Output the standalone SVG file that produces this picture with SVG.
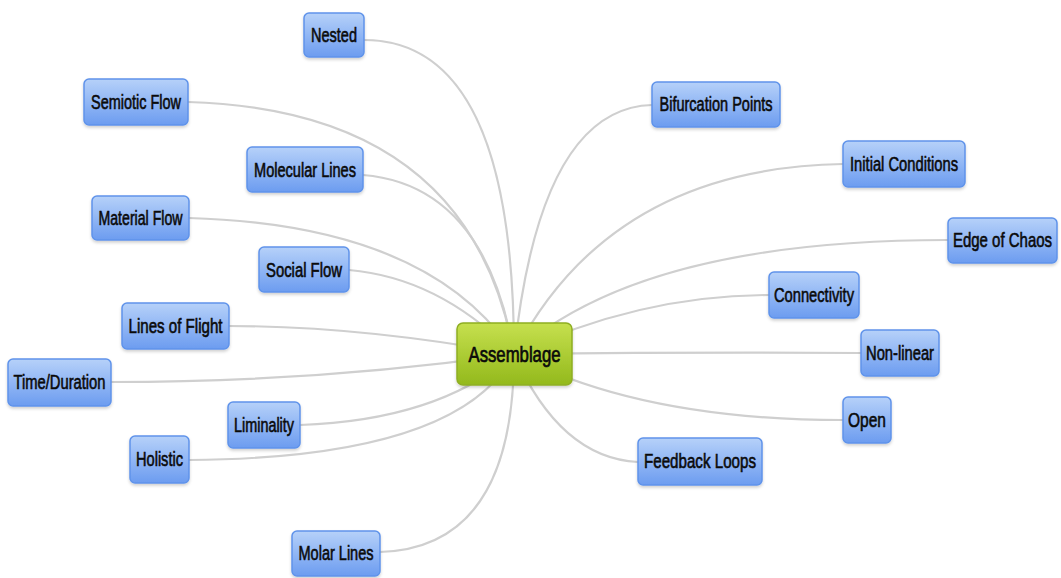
<svg xmlns="http://www.w3.org/2000/svg" width="1061" height="578" viewBox="0 0 1061 578">
  <defs>
    <linearGradient id="blueFill" x1="0" y1="0" x2="0" y2="1">
      <stop offset="0" stop-color="#b6d1f9"/>
      <stop offset="1" stop-color="#6c9cf0"/>
    </linearGradient>
    <linearGradient id="greenFill" x1="0" y1="0" x2="0" y2="1">
      <stop offset="0" stop-color="#c6e04e"/>
      <stop offset="1" stop-color="#93b91c"/>
    </linearGradient>
    <filter id="shadow" x="-20%" y="-20%" width="140%" height="150%">
      <feDropShadow dx="0" dy="2" stdDeviation="1.5" flood-color="#000" flood-opacity="0.18"/>
    </filter>
  </defs>
  <style>
    .link { fill: none; stroke: #cfcfcf; stroke-width: 2.2; stroke-linecap: round; }
    .topic rect { fill: url(#blueFill); stroke: #5f93ea; stroke-width: 1.5; filter: url(#shadow); }
    .root rect { fill: url(#greenFill); stroke: #8fae22; stroke-width: 1.5; filter: url(#shadow); }
    text { font-family: "Liberation Sans", Arial, sans-serif; font-size: 20px; fill: #0a0a0a; text-anchor: middle; stroke: #0a0a0a; stroke-width: 0.6; }
    .root text { font-size: 22px; stroke-width: 0.7; }
  </style>
  <rect width="1061" height="578" fill="#ffffff"/>

  <!-- connectors from the central topic -->
  <g id="connectors">
    <path class="link" d="M514,354 Q514,40 364,40"/>
    <path class="link" d="M514,354 Q470,110 188,102"/>
    <path class="link" d="M514,354 Q485,185 363,175"/>
    <path class="link" d="M514,354 Q430,225 189,218"/>
    <path class="link" d="M514,354 Q440,278 349,270"/>
    <path class="link" d="M514,354 Q360,326 229,326"/>
    <path class="link" d="M514,354 Q320,382 111,382"/>
    <path class="link" d="M514,354 Q440,420 300,425"/>
    <path class="link" d="M514,354 Q460,458 189,460"/>
    <path class="link" d="M514,354 Q514,548 380,552"/>
    <path class="link" d="M514,354 Q540,108 652,105"/>
    <path class="link" d="M514,354 Q610,168 843,164"/>
    <path class="link" d="M514,354 Q640,240 948,240"/>
    <path class="link" d="M514,354 Q640,295 769,295"/>
    <path class="link" d="M514,354 Q700,352 861,353"/>
    <path class="link" d="M514,354 Q640,420 843,420"/>
    <path class="link" d="M514,354 Q560,458 638,462"/>
  </g>

  <!-- central topic -->
  <g id="assemblage" class="root">
    <rect x="457" y="323" width="115" height="62" rx="6"/>
    <text x="514.5" y="362" textLength="92" lengthAdjust="spacingAndGlyphs">Assemblage</text>
  </g>

  <!-- left branch topics -->
  <g id="nested" class="topic">
    <rect x="304" y="13" width="60" height="44" rx="5"/>
    <text x="334" y="42" textLength="46" lengthAdjust="spacingAndGlyphs">Nested</text>
  </g>
  <g id="semiotic-flow" class="topic">
    <rect x="84" y="79" width="104" height="46" rx="5"/>
    <text x="136" y="109" textLength="90" lengthAdjust="spacingAndGlyphs">Semiotic Flow</text>
  </g>
  <g id="molecular-lines" class="topic">
    <rect x="247" y="147" width="116" height="45" rx="5"/>
    <text x="305" y="177" textLength="102" lengthAdjust="spacingAndGlyphs">Molecular Lines</text>
  </g>
  <g id="material-flow" class="topic">
    <rect x="92" y="196" width="97" height="44" rx="5"/>
    <text x="140.5" y="225" textLength="84" lengthAdjust="spacingAndGlyphs">Material Flow</text>
  </g>
  <g id="social-flow" class="topic">
    <rect x="259" y="247" width="90" height="45" rx="5"/>
    <text x="304" y="277" textLength="76" lengthAdjust="spacingAndGlyphs">Social Flow</text>
  </g>
  <g id="lines-of-flight" class="topic">
    <rect x="122" y="303" width="107" height="46" rx="5"/>
    <text x="175.5" y="333" textLength="94" lengthAdjust="spacingAndGlyphs">Lines of Flight</text>
  </g>
  <g id="time-duration" class="topic">
    <rect x="8" y="359" width="103" height="47" rx="5"/>
    <text x="59.5" y="389" textLength="92" lengthAdjust="spacingAndGlyphs">Time/Duration</text>
  </g>
  <g id="liminality" class="topic">
    <rect x="228" y="402" width="72" height="46" rx="5"/>
    <text x="264" y="432" textLength="60" lengthAdjust="spacingAndGlyphs">Liminality</text>
  </g>
  <g id="holistic" class="topic">
    <rect x="130" y="436" width="59" height="47" rx="5"/>
    <text x="159.5" y="466" textLength="47" lengthAdjust="spacingAndGlyphs">Holistic</text>
  </g>
  <g id="molar-lines" class="topic">
    <rect x="292" y="531" width="88" height="45" rx="5"/>
    <text x="336" y="560" textLength="75" lengthAdjust="spacingAndGlyphs">Molar Lines</text>
  </g>

  <!-- right branch topics -->
  <g id="bifurcation-points" class="topic">
    <rect x="652" y="82" width="128" height="45" rx="5"/>
    <text x="716" y="111" textLength="113" lengthAdjust="spacingAndGlyphs">Bifurcation Points</text>
  </g>
  <g id="initial-conditions" class="topic">
    <rect x="843" y="141" width="122" height="46" rx="5"/>
    <text x="904" y="171" textLength="108" lengthAdjust="spacingAndGlyphs">Initial Conditions</text>
  </g>
  <g id="edge-of-chaos" class="topic">
    <rect x="948" y="218" width="109" height="45" rx="5"/>
    <!-- narrowed by scaling so the label stays inside the canvas -->
    <text transform="translate(1002.5,247) scale(0.75,1)" x="0" y="0">Edge of Chaos</text>
  </g>
  <g id="connectivity" class="topic">
    <rect x="769" y="272" width="90" height="46" rx="5"/>
    <text x="814" y="302" textLength="80" lengthAdjust="spacingAndGlyphs">Connectivity</text>
  </g>
  <g id="non-linear" class="topic">
    <rect x="861" y="330" width="78" height="46" rx="5"/>
    <text x="900" y="360" textLength="68" lengthAdjust="spacingAndGlyphs">Non-linear</text>
  </g>
  <g id="open" class="topic">
    <rect x="843" y="397" width="48" height="46" rx="5"/>
    <text x="867" y="427" textLength="38" lengthAdjust="spacingAndGlyphs">Open</text>
  </g>
  <g id="feedback-loops" class="topic">
    <rect x="638" y="438" width="124" height="47" rx="5"/>
    <text x="700" y="468" textLength="112" lengthAdjust="spacingAndGlyphs">Feedback Loops</text>
  </g>
</svg>
